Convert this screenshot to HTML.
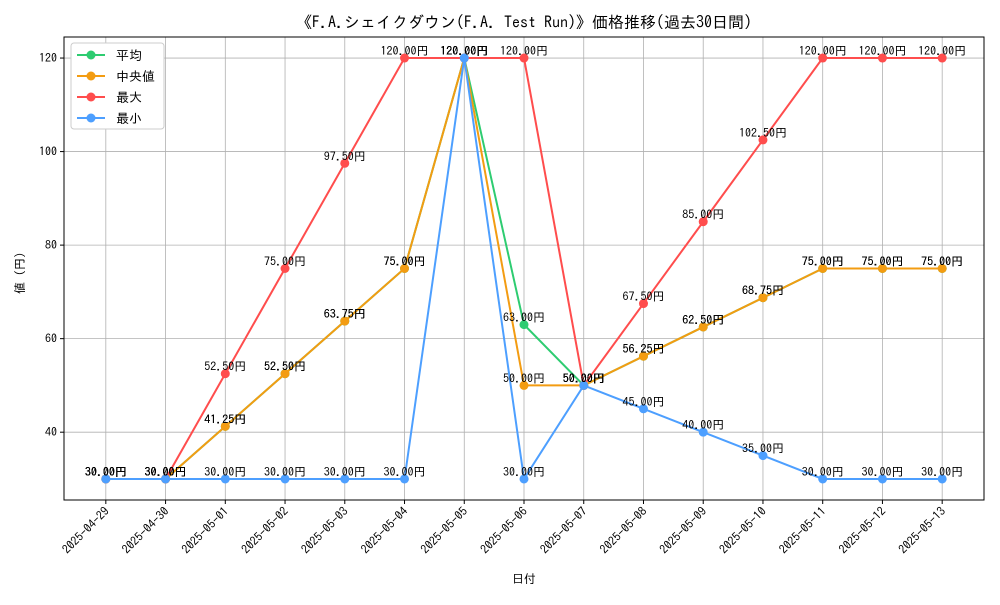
<!DOCTYPE html>
<html><head><meta charset="utf-8"><style>
body{margin:0;background:#fff}
svg text{font-family:"IPAGothic","Liberation Sans","Noto Sans CJK JP",sans-serif;fill:#000}
</style></head><body>
<svg id="c" width="1000" height="600" xmlns="http://www.w3.org/2000/svg"></svg>
<script>
const categories=["2025-04-29","2025-04-30","2025-05-01","2025-05-02","2025-05-03","2025-05-04","2025-05-05","2025-05-06","2025-05-07","2025-05-08","2025-05-09","2025-05-10","2025-05-11","2025-05-12","2025-05-13"];
const meanValues=[30,30,41.25,52.5,63.75,75,120,63,50,56.25,62.5,68.75,75,75,75];
const medianValues=[30,30,41.25,52.5,63.75,75,120,50,50,56.25,62.5,68.75,75,75,75];
const maxValues=[30,30,52.5,75,97.5,120,120,120,50,67.5,85,102.5,120,120,120];
const minValues=[30,30,30,30,30,30,120,30,50,45,40,35,30,30,30];
const yTicks=[40,60,80,100,120];
const seriesNames=["平均","中央値","最大","最小"];
const colors=["#2ecc71","#f39c12","#ff4d4d","#4d9fff"];
const L=64,R=984,T=37,B=500;
const vals=[meanValues,medianValues,maxValues,minValues];
const all=vals.flat();const mn=Math.min(...all),mx=Math.max(...all),pad=(mx-mn)*0.05;
const y0=mn-pad,y1=mx+pad,n=categories.length;
const xs=i=>L+(i+0.7)/(n-1+1.4)*(R-L);
const ys=v=>B-(v-y0)/(y1-y0)*(B-T);
const svg=document.getElementById('c');const NS="http://www.w3.org/2000/svg";
function mk(t,a,p){const e=document.createElementNS(NS,t);for(const k in a)e.setAttribute(k,a[k]);(p||svg).appendChild(e);return e;}
// grid
categories.forEach((c,i)=>{const g=mk('line',{x1:xs(i),x2:xs(i),y1:T,y2:B,stroke:'#b0b0b0','stroke-width':0.8});

mk('line',{x1:xs(i),x2:xs(i),y1:B,y2:B+4,stroke:'#000'});
const t=mk('text',{x:0,y:0,'font-size':12,'text-anchor':'end',transform:`translate(${xs(i)+4},${B+12}) rotate(-45)`});t.textContent=c;
});
yTicks.forEach(v=>{const g=mk('line',{x1:L,x2:R,y1:ys(v),y2:ys(v),stroke:'#b0b0b0','stroke-width':0.8});

mk('line',{x1:L-4,x2:L,y1:ys(v),y2:ys(v),stroke:'#000'});
const t=mk('text',{x:L-7,y:ys(v)+4,'font-size':12,'text-anchor':'end'});t.textContent=v;
});
const fr=mk('rect',{x:L,y:T,width:R-L,height:B-T,fill:'none',stroke:'#000','stroke-width':1});

// series
vals.forEach((arr,s)=>{const g=mk('g',{});
const pl=mk('polyline',{points:arr.map((v,i)=>xs(i)+','+ys(v)).join(' '),fill:'none',stroke:colors[s],'stroke-width':2},g);

arr.forEach((v,i)=>{const c=mk('circle',{cx:xs(i),cy:ys(v),r:4.5,fill:colors[s]},g);
});});
vals.forEach((arr,s)=>arr.forEach((v,i)=>{const t=mk('text',{x:xs(i),y:ys(v)-3,'font-size':12,'text-anchor':'middle'});t.textContent=v.toFixed(2)+'円';
}));
// titles
let t=mk('text',{x:524,y:28,'font-size':16,'text-anchor':'middle'});t.textContent='《F.A.シェイクダウン(F.A. Test Run)》価格推移(過去30日間)';

t=mk('text',{x:524,y:583,'font-size':12,'text-anchor':'middle'});t.textContent='日付';

t=mk('text',{x:0,y:0,'font-size':12,'text-anchor':'middle',transform:'translate(24,270) rotate(-90)'});t.textContent='値（円）';

// legend
const lg=mk('g',{});
mk('rect',{x:71,y:43,width:93,height:86,fill:'#fff',stroke:'#ccc',rx:3},lg);
seriesNames.forEach((nm,s)=>{const yy=55+s*21;const e=mk('g',{},lg);
mk('line',{x1:77,x2:105,y1:yy,y2:yy,stroke:colors[s],'stroke-width':2},e);mk('circle',{cx:91,cy:yy,r:4.5,fill:colors[s]},e);
const tt=mk('text',{x:116,y:yy+5,'font-size':13},e);tt.textContent=nm;});
</script>
</body></html>
